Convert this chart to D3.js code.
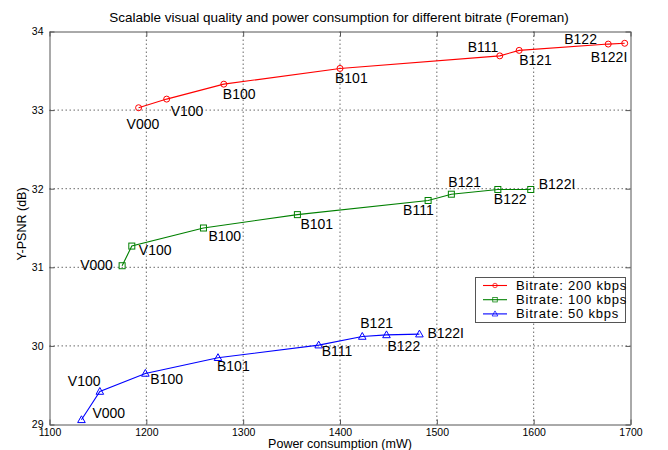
<!DOCTYPE html>
<html>
<head>
<meta charset="utf-8">
<script src="https://cdn.jsdelivr.net/npm/d3@7"></script>
<style>
  html, body { margin: 0; padding: 0; background: #fff; }
  svg { display: block; font-family: "Liberation Sans", Arial, sans-serif; }
</style>
</head>
<body>
<svg id="chart" width="668" height="450"></svg>
<script>
// Operating-point names shared by all three bitrate curves
const pointNames = ["V000", "V100", "B100", "B101", "B111", "B121", "B122", "B122I"];

// Power consumption (mW) per operating point
const power200 = [1192, 1221, 1280, 1400, 1565, 1585, 1677, 1694];
const power100 = [1175, 1185, 1259, 1356, 1491, 1515, 1563, 1597];
const power50  = [1133, 1152, 1199, 1274, 1378, 1423, 1448, 1482];

// Y-PSNR (dB) per operating point
const psnr200 = [33.03, 33.14, 33.33, 33.53, 33.69, 33.76, 33.84, 33.85];
const psnr100 = [31.02, 31.27, 31.50, 31.67, 31.85, 31.93, 31.99, 31.99];
const psnr50  = [29.06, 29.42, 29.65, 29.85, 30.01, 30.12, 30.14, 30.15];

const seriesNames = ["Bitrate: 200 kbps", "Bitrate: 100 kbps", "Bitrate: 50 kbps"];
const xTicks = [1100, 1200, 1300, 1400, 1500, 1600, 1700];
const yTicks = [29, 30, 31, 32, 33, 34];

// Per-point label nudges in pixels [dx, dy] so annotations stay clear of the curves
const labelNudge200 = [[-12, 21], [4, 17], [-1, 15], [-5, 15], [-32, -4], [0, 15], [-44, 0], [-34, 19]];
const labelNudge100 = [[-42, 4], [7, 9], [5, 13], [3, 14], [-25, 15], [-3, -7], [-4, 15], [8, 0]];
const labelNudge50  = [[11, -2], [-32, -5], [5, 11], [-1, 13], [3, 11], [-2, -8], [1, 16], [8, 4]];

const series = [
  { name: seriesNames[0], x: power200, y: psnr200, nudge: labelNudge200, color: "#ff0000", marker: "circle" },
  { name: seriesNames[1], x: power100, y: psnr100, nudge: labelNudge100, color: "#008000", marker: "square" },
  { name: seriesNames[2], x: power50,  y: psnr50,  nudge: labelNudge50,  color: "#0000ff", marker: "triangle" }
];

const svg = d3.select("#chart");
const plot = { left: 49.5, right: 630.5, top: 31.5, bottom: 424.5 };

const x = d3.scaleLinear().domain([1100, 1700]).range([plot.left, plot.right]);
const y = d3.scaleLinear().domain([29, 34]).range([plot.bottom, plot.top]);

// Dotted grid
const grid = svg.append("g");
grid.selectAll("line.gx").data(xTicks.slice(1, -1)).join("line")
  .attr("x1", d => x(d)).attr("x2", d => x(d))
  .attr("y1", plot.top).attr("y2", plot.bottom)
  .attr("stroke", "#444").attr("stroke-width", 0.8).attr("stroke-dasharray", "1.5,2.5");
grid.selectAll("line.gy").data(yTicks.slice(1, -1)).join("line")
  .attr("y1", d => y(d)).attr("y2", d => y(d))
  .attr("x1", plot.left).attr("x2", plot.right)
  .attr("stroke", "#444").attr("stroke-width", 0.8).attr("stroke-dasharray", "1.5,2.5");

// Axes with inward ticks on all four sides
const axisStyle = g => {
  g.select(".domain").attr("stroke", "#555");
  g.selectAll(".tick line").attr("stroke", "#555");
  g.selectAll(".tick text").attr("fill", "#000").style("font-size", "10.5px")
   .style("font-family", "'Liberation Sans', Arial, sans-serif");
};
svg.append("g").attr("transform", `translate(0,${plot.bottom})`)
  .call(d3.axisBottom(x).tickValues(xTicks).tickFormat(d3.format("d")).tickSize(-5).tickPadding(4).tickSizeOuter(0))
  .call(axisStyle);
svg.append("g").attr("transform", `translate(0,${plot.top})`)
  .call(d3.axisTop(x).tickValues(xTicks).tickSize(-5).tickFormat("").tickSizeOuter(0))
  .call(axisStyle);
svg.append("g").attr("transform", `translate(${plot.left},0)`)
  .call(d3.axisLeft(y).tickValues(yTicks).tickFormat(d3.format("d")).tickSize(-5).tickPadding(6).tickSizeOuter(0))
  .call(axisStyle);
svg.append("g").attr("transform", `translate(${plot.right},0)`)
  .call(d3.axisRight(y).tickValues(yTicks).tickSize(-5).tickFormat("").tickSizeOuter(0))
  .call(axisStyle);

// Marker drawing
function drawMarker(sel, type, color) {
  if (type === "circle") {
    sel.append("circle").attr("r", 3).attr("fill", "none").attr("stroke", color).attr("stroke-width", 1);
  } else if (type === "square") {
    sel.append("rect").attr("x", -3).attr("y", -3).attr("width", 6).attr("height", 6)
      .attr("fill", "none").attr("stroke", color).attr("stroke-width", 1);
  } else {
    sel.append("path").attr("d", "M0,-4L3.8,2.8L-3.8,2.8Z")
      .attr("fill", "none").attr("stroke", color).attr("stroke-width", 1);
  }
}

const line = d3.line().x(d => x(d[0])).y(d => y(d[1]));

series.forEach(s => {
  const pts = s.x.map((v, i) => [v, s.y[i]]);
  const g = svg.append("g");
  g.append("path").datum(pts).attr("d", line)
    .attr("fill", "none").attr("stroke", s.color).attr("stroke-width", 1.1);
  g.selectAll("g.m").data(pts).join("g")
    .attr("transform", d => `translate(${x(d[0])},${y(d[1])})`)
    .each(function () { drawMarker(d3.select(this), s.marker, s.color); });
  g.selectAll("text").data(pts).join("text")
    .attr("x", (d, i) => x(d[0]) + s.nudge[i][0])
    .attr("y", (d, i) => y(d[1]) + s.nudge[i][1])
    .attr("font-size", 14).attr("fill", "#000")
    .text((d, i) => pointNames[i]);
});

// Legend
const lg = svg.append("g");
lg.append("rect").attr("x", 475.5).attr("y", 277.5).attr("width", 150).attr("height", 45)
  .attr("fill", "#fff").attr("stroke", "#555").attr("stroke-width", 1);
series.forEach((s, i) => {
  const cy = 285.5 + i * 14.2;
  lg.append("line").attr("x1", 483).attr("x2", 507).attr("y1", cy).attr("y2", cy)
    .attr("stroke", s.color).attr("stroke-width", 1.1);
  const m = lg.append("g").attr("transform", `translate(495,${cy})`);
  drawMarker(m, s.marker, s.color);
  m.select("*").attr("transform", "scale(0.75)");
  lg.append("text").attr("x", 516).attr("y", cy + 4.5).attr("font-size", 13)
    .attr("letter-spacing", 0.8).text(s.name);
});

// Titles
svg.append("text").attr("x", 339).attr("y", 22).attr("text-anchor", "middle")
  .attr("font-size", 13.5).text("Scalable visual quality and power consumption for different bitrate (Foreman)");
svg.append("text").attr("x", 340).attr("y", 448).attr("text-anchor", "middle")
  .attr("font-size", 12.5).text("Power consumption (mW)");
svg.append("text").attr("transform", "translate(26,224) rotate(-90)").attr("text-anchor", "middle")
  .attr("font-size", 12.5).text("Y-PSNR (dB)");
</script>
</body>
</html>
